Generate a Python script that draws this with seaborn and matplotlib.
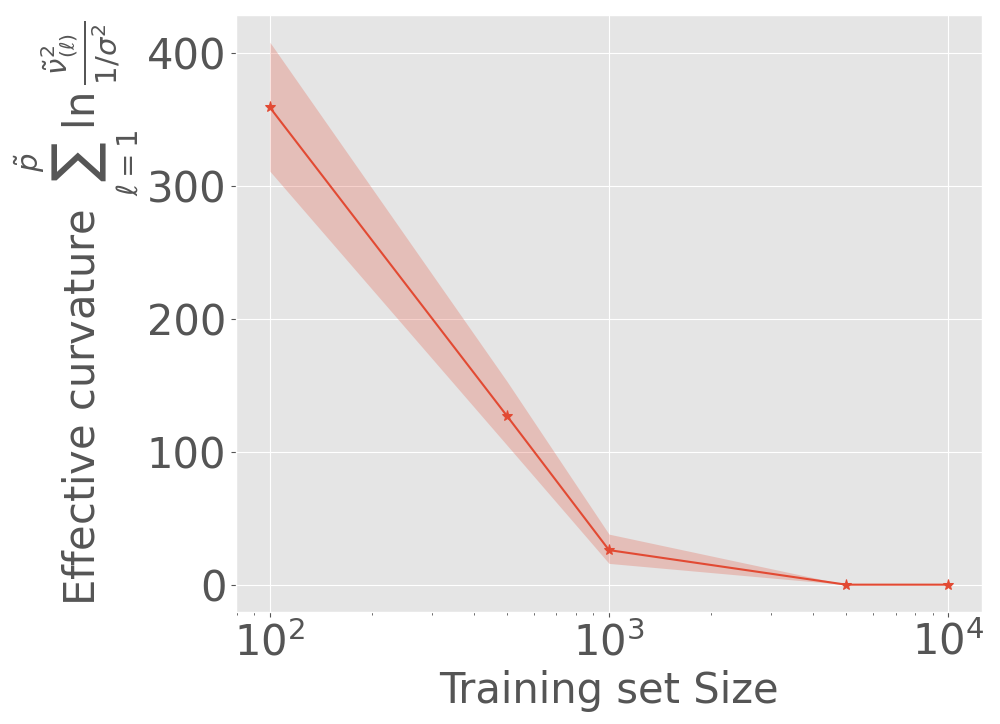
import numpy as np
import pandas as pd
import matplotlib
matplotlib.use('Agg')
import matplotlib.pyplot as plt
import seaborn as sns

# training set sizes and effective curvature (mean and band)
train_sizes = [100, 500, 1000, 5000, 10000]
curv_mean = [359, 127, 26, 0, 0]
curv_lower = [311, 105, 16, 0, 0]
curv_upper = [408, 153, 38, 0, 0]

plt.style.use('ggplot')

df = pd.DataFrame({'size': train_sizes, 'curv': curv_mean})

fig, ax = plt.subplots(figsize=(10, 7.24), dpi=100)
sns.lineplot(data=df, x='size', y='curv', marker='*', markersize=8,
             color='#E24A33', markeredgecolor='#E24A33', ax=ax)
ax.fill_between(train_sizes, curv_lower, curv_upper, color='#E24A33',
                alpha=0.25, linewidth=0)
ax.set_xscale('log')
ax.margins(x=0.05, y=0.05)

ax.set_xlabel('Training set Size', fontsize=30)
ax.set_ylabel(r'Effective curvature $\sum_{\ell=1}^{\tilde{p}}\ln\frac{\tilde{\nu}^2_{(\ell)}}{1/\sigma^2}$',
              fontsize=30)
ax.tick_params(axis='both', labelsize=30)

fig.subplots_adjust(left=0.236, right=0.982, bottom=0.155, top=0.979)
fig.savefig('out.png', dpi=100)
